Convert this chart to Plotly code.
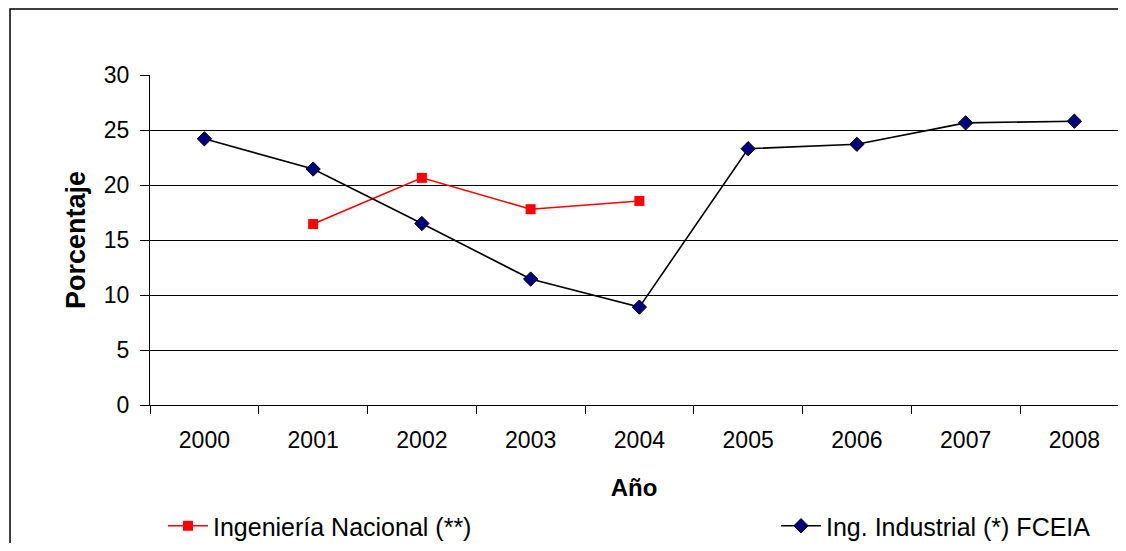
import plotly.graph_objects as go

years = ["2000", "2001", "2002", "2003", "2004", "2005", "2006", "2007", "2008"]
ing_industrial = [24.2, 21.45, 16.5, 11.45, 8.9, 23.3, 23.7, 25.65, 25.8]
nac_years = ["2001", "2002", "2003", "2004"]
ing_nacional = [16.45, 20.65, 17.8, 18.55]

FONT = "Liberation Sans, Arial, sans-serif"

# page body has an 8px margin; figure sized to fit inside the window
W, H = 1110, 535

fig = go.Figure()
fig.add_trace(go.Scatter(
    x=nac_years, y=ing_nacional, mode="lines+markers",
    name="Ingeniería Nacional (**)", legend="legend",
    line=dict(color="#ff0000", width=1.6),
    marker=dict(symbol="square", size=10, color="#ff0000"),
))
fig.add_trace(go.Scatter(
    x=years, y=ing_industrial, mode="lines+markers",
    name="Ing. Industrial (*) FCEIA", legend="legend2",
    line=dict(color="#000000", width=1.6),
    marker=dict(symbol="diamond", size=11, color="#000080",
                line=dict(color="#000000", width=1)),
))

legend_common = dict(orientation="h", xanchor="left", yref="container",
                     y=1 - 518 / H, yanchor="middle",
                     font=dict(size=25), itemwidth=40, bgcolor="rgba(0,0,0,0)")

fig.update_layout(
    width=W, height=H,
    margin=dict(l=142, r=0, t=67, b=H - 397),
    paper_bgcolor="white", plot_bgcolor="white",
    font=dict(family=FONT, size=23, color="black"),
    showlegend=True,
    legend=dict(x=0.0134, **legend_common),
    legend2=dict(x=0.6467, **legend_common),
    xaxis=dict(
        type="category", categoryorder="array", categoryarray=years,
        range=[-0.5, 8.401], automargin=False,
        showline=True, linecolor="black", linewidth=1,
        ticks="outside", tickson="boundaries", ticklen=8, tickcolor="black",
        ticklabelstandoff=14,
        showgrid=False,
        title=dict(text="<b>Año</b>", font=dict(size=24), standoff=27),
        tickfont=dict(size=23),
    ),
    yaxis=dict(
        range=[0, 30], dtick=5, automargin=False,
        showline=True, linecolor="black", linewidth=1,
        ticks="outside", ticklen=9, tickcolor="black",
        ticklabelstandoff=6,
        showgrid=True, gridcolor="#000000", gridwidth=1,
        zeroline=False,
        title=dict(text="<b>Porcentaje</b>", font=dict(size=27), standoff=10),
        tickfont=dict(size=23),
    ),
    shapes=[dict(type="rect", xref="paper", yref="paper",
                 x0=-0.1446, x1=1.1, y0=-0.7, y1=1.2,
                 line=dict(color="black", width=1.5))],
)

fig.write_html("out.html")
